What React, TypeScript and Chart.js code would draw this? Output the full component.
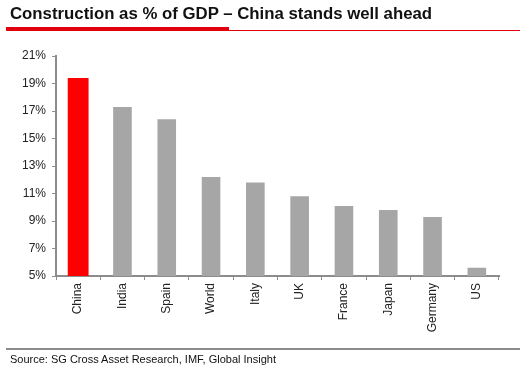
import React, { useEffect, useRef } from "react";
import { Chart, registerables } from "chart.js";

Chart.register(...registerables);

const categories = ["China", "India", "Spain", "World", "Italy", "UK", "France", "Japan", "Germany", "US"];
const chinaValues = [19.4, null, null, null, null, null, null, null, null, null];
const otherValues = [null, 17.3, 16.4, 12.2, 11.8, 10.8, 10.1, 9.8, 9.3, 5.6];
const yMin = 5;
const yMax = 21;
const yStep = 2;
const title = "Construction as % of GDP \u2013 China stands well ahead";
const source = "Source: SG Cross Asset Research, IMF, Global Insight";

export default function App() {
  const ref = useRef<HTMLCanvasElement>(null);
  useEffect(() => {
    if (!ref.current) return;
    const chart = new Chart(ref.current, {
      type: "bar",
      data: {
        labels: categories,
        datasets: [
          {
            data: chinaValues,
            backgroundColor: "#FF0000",
            barPercentage: 0.47,
            categoryPercentage: 1,
            grouped: false,
          },
          {
            data: otherValues,
            backgroundColor: "#A6A6A6",
            barPercentage: 0.42,
            categoryPercentage: 1,
            grouped: false,
          },
        ],
      },
      options: {
        animation: false,
        responsive: false,
        layout: { padding: { left: 0, top: 56, right: 28, bottom: 0 } },
        plugins: { legend: { display: false }, tooltip: { enabled: false } },
        scales: {
          x: {
            afterFit: (s: any) => {
              s.height = 376 - 276;
            },
            border: { color: "#8c8c8c", width: 2 },
            grid: { drawOnChartArea: false, tickLength: 4, color: "#8c8c8c", offset: true },
            ticks: {
              minRotation: 90,
              maxRotation: 90,
              padding: 3,
              color: "#222",
              font: { family: "Liberation Sans, Arial", size: 12 },
            },
          },
          y: {
            min: yMin,
            max: yMax,
            afterFit: (s: any) => {
              s.width = 56;
            },
            border: { color: "#8c8c8c", width: 2 },
            grid: { drawOnChartArea: false, tickLength: 4, color: "#8c8c8c" },
            ticks: {
              stepSize: yStep,
              padding: 6,
              color: "#222",
              font: { family: "Liberation Sans, Arial", size: 12 },
              callback: (v: any) => v + "%",
            },
          },
        },
      },
    });
    return () => chart.destroy();
  }, []);

  return (
    <div style={{ position: "fixed", left: 0, top: 0, width: 527, height: 376, background: "#fff", fontFamily: "Liberation Sans, Arial, sans-serif" }}>
      <canvas ref={ref} width={527} height={376} style={{ position: "absolute", left: 0, top: 0 }} />
      <div style={{ position: "absolute", left: 10, top: 4, fontSize: 16.8, fontWeight: "bold", color: "#111", whiteSpace: "nowrap" }}>{title}</div>
      <div style={{ position: "absolute", left: 6, top: 27, width: 223, height: 4, background: "#E3000F" }} />
      <div style={{ position: "absolute", left: 229, top: 30, width: 291, height: 1, background: "#E3000F" }} />
      <div style={{ position: "absolute", left: 6, top: 348, width: 514, height: 2, background: "#8c8c8c" }} />
      <div style={{ position: "absolute", left: 10, top: 353, fontSize: 11, color: "#111", whiteSpace: "nowrap" }}>{source}</div>
    </div>
  );
}
